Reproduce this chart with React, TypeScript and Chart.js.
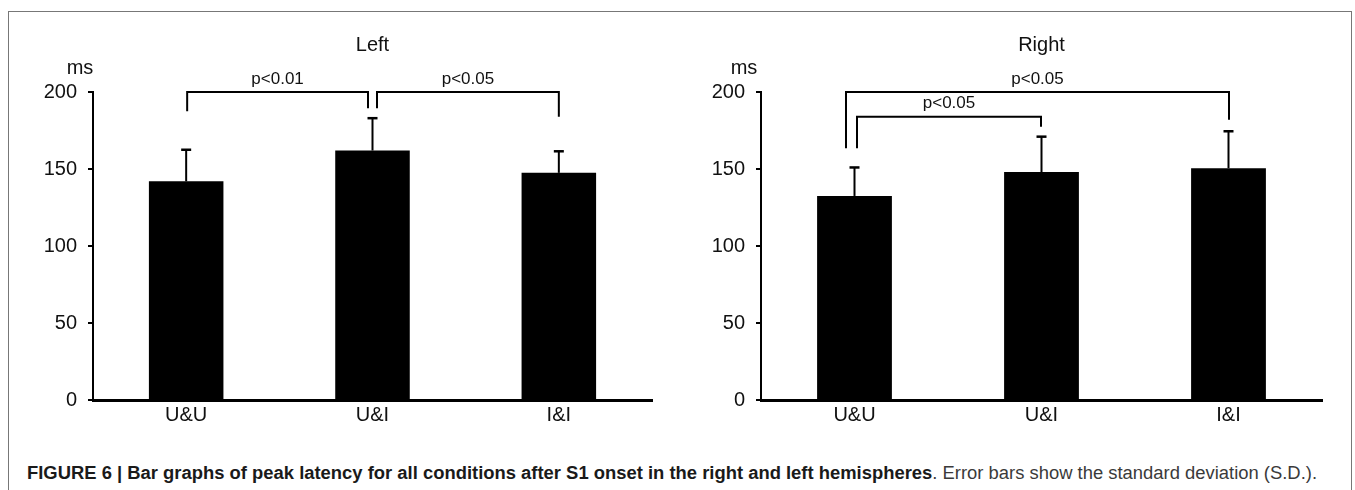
import React, { useEffect, useRef } from "react";
import { Chart, registerables } from "chart.js";

Chart.register(...registerables);

const categories = ["U&U", "U&I", "I&I"];
const yTicks = [0, 50, 100, 150, 200];

const leftMeans = [142, 162, 147.5];
const leftSD = [20.5, 21, 14];
const rightMeans = [132.5, 148, 150.5];
const rightSD = [18.5, 23, 24];

// brackets: from/to category index, x offsets (px), bar height value, leg-bottom values, label
const leftBrackets = [
  { from: 0, to: 1, fromOff: 1, toOff: -4.5, top: 200, fromEnd: 187.5, toEnd: 189.5, label: "p<0.01" },
  { from: 1, to: 2, fromOff: 4.5, toOff: 0, top: 200, fromEnd: 189.5, toEnd: 184, label: "p<0.05" },
];
const rightBrackets = [
  { from: 0, to: 2, fromOff: -8.5, toOff: 0.5, top: 200, fromEnd: 163.5, toEnd: 182, label: "p<0.05" },
  { from: 0, to: 1, fromOff: 2.5, toOff: -0.5, top: 184, fromEnd: 163.5, toEnd: 177.5, label: "p<0.05" },
];

const FONT = "'Liberation Sans', Arial, Helvetica, sans-serif";

const annotPlugin = {
  id: "annot",
  afterDatasetsDraw(chart: any, _args: any, opts: any) {
    const ctx = chart.ctx;
    const xs = chart.scales.x;
    const ys = chart.scales.y;
    const area = chart.chartArea;
    ctx.save();
    // error bars
    const means: number[] = opts.means;
    const sds: number[] = opts.sds;
    ctx.strokeStyle = "#000";
    ctx.lineCap = "butt";
    means.forEach((m, i) => {
      const x = xs.getPixelForValue(i);
      const y0 = ys.getPixelForValue(m);
      const y1 = ys.getPixelForValue(m + sds[i]);
      ctx.lineWidth = 2;
      ctx.beginPath();
      ctx.moveTo(x, y0);
      ctx.lineTo(x, y1);
      ctx.stroke();
      ctx.lineWidth = 2.5;
      ctx.beginPath();
      ctx.moveTo(x - 5, y1);
      ctx.lineTo(x + 5, y1);
      ctx.stroke();
    });
    // brackets
    ctx.lineWidth = 2;
    ctx.lineJoin = "miter";
    (opts.brackets || []).forEach((b: any) => {
      const xa = xs.getPixelForValue(b.from) + b.fromOff;
      const xb = xs.getPixelForValue(b.to) + b.toOff;
      const yt = ys.getPixelForValue(b.top);
      ctx.beginPath();
      ctx.moveTo(xa, ys.getPixelForValue(b.fromEnd));
      ctx.lineTo(xa, yt);
      ctx.lineTo(xb, yt);
      ctx.lineTo(xb, ys.getPixelForValue(b.toEnd));
      ctx.stroke();
      ctx.fillStyle = "#111";
      ctx.font = `17px ${FONT}`;
      ctx.textAlign = "center";
      ctx.textBaseline = "middle";
      ctx.fillText(b.label, (xa + xb) / 2, yt - 13);
    });
    // title and unit
    ctx.fillStyle = "#111";
    ctx.font = `20px ${FONT}`;
    ctx.textAlign = "center";
    ctx.textBaseline = "middle";
    ctx.fillText(opts.title, (area.left + area.right) / 2, 45);
    ctx.fillText("ms", area.left + opts.msOff, 68);
    ctx.restore();
  },
};

function makeConfig(means: number[], sds: number[], brackets: any[], title: string, yWidth: number, padRight: number, msOff: number): any {
  return {
    type: "bar",
    data: {
      labels: categories,
      datasets: [
        {
          data: means,
          backgroundColor: "#000",
          borderWidth: 0,
          barPercentage: 0.4,
          categoryPercentage: 1,
        },
      ],
    },
    plugins: [annotPlugin],
    options: {
      animation: false,
      responsive: false,
      devicePixelRatio: 1,
      layout: { padding: { left: 0, top: 92, right: padRight, bottom: 0 } },
      plugins: {
        legend: { display: false },
        tooltip: { enabled: false },
        title: { display: false },
        annot: { means, sds, brackets, title, msOff },
      },
      scales: {
        x: {
          type: "category",
          grid: { display: false, drawTicks: false },
          border: { display: true, color: "#000", width: 3 },
          ticks: { color: "#111", font: { family: FONT, size: 20 }, padding: 3, maxRotation: 0 },
          afterFit: (s: any) => { s.height = 40; },
        },
        y: {
          min: 0,
          max: 200,
          afterBuildTicks: (s: any) => { s.ticks = yTicks.map((v) => ({ value: v })); },
          grid: { drawOnChartArea: false, drawTicks: true, tickLength: 5, color: "#000", lineWidth: 2 },
          border: { display: true, color: "#000", width: 2 },
          ticks: { color: "#111", font: { family: FONT, size: 20 }, padding: 11 },
          afterFit: (s: any) => { s.width = yWidth; },
        },
      },
    },
  };
}

export default function App() {
  const leftRef = useRef<HTMLCanvasElement>(null);
  const rightRef = useRef<HTMLCanvasElement>(null);
  const capRef = useRef<HTMLSpanElement>(null);

  useEffect(() => {
    const c1 = new Chart(leftRef.current as HTMLCanvasElement, makeConfig(leftMeans, leftSD, leftBrackets, "Left", 93, 28, -13));
    const c2 = new Chart(rightRef.current as HTMLCanvasElement, makeConfig(rightMeans, rightSD, rightBrackets, "Right", 81, 33, -17));
    const cap = capRef.current;
    if (cap) {
      const w = cap.getBoundingClientRect().width;
      if (w > 0) cap.style.transform = `scaleX(${1290 / w})`;
    }
    return () => {
      c1.destroy();
      c2.destroy();
    };
  }, []);

  return (
    <div style={{ position: "absolute", left: 0, top: 0, width: 1355, height: 490, overflow: "hidden", background: "#fff" }}>
      <div style={{ position: "absolute", left: 8, top: 11, width: 1342, height: 500, border: "1px solid #777" }} />
      <canvas ref={leftRef} width={680} height={440} style={{ position: "absolute", left: 0, top: 0, width: 680, height: 440 }} />
      <canvas ref={rightRef} width={675} height={440} style={{ position: "absolute", left: 680, top: 0, width: 675, height: 440 }} />
      <div style={{ position: "absolute", left: 27, top: 463, whiteSpace: "nowrap", fontFamily: FONT, fontSize: 18, lineHeight: "20px" }}>
        <span ref={capRef} style={{ display: "inline-block", transformOrigin: "0 0" }}>
          <b style={{ color: "#1a1a1a" }}>FIGURE 6 | Bar graphs of peak latency for all conditions after S1 onset in the right and left hemispheres</b>
          <span style={{ color: "#3a3a3a" }}>. Error bars show the standard deviation (S.D.).</span>
        </span>
      </div>
    </div>
  );
}
